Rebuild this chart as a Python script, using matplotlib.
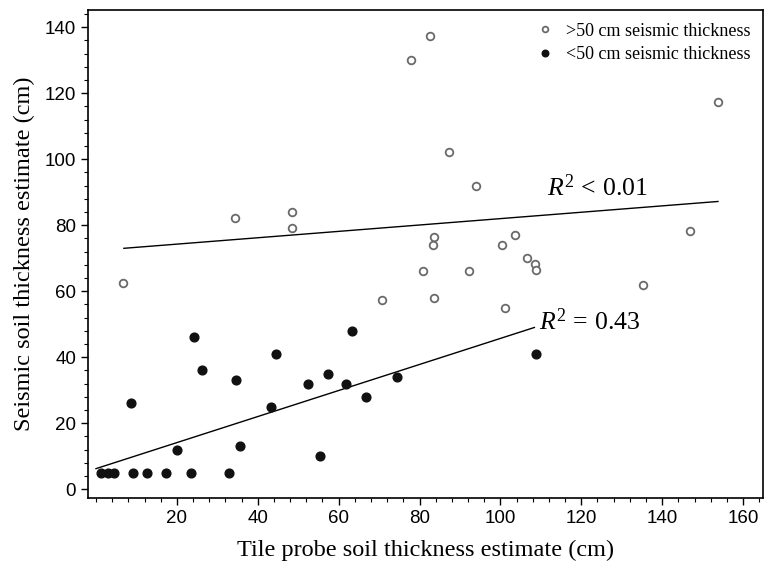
import matplotlib
matplotlib.use("Agg")
import matplotlib.pyplot as plt
import numpy as np
from matplotlib.ticker import MultipleLocator

# >50 cm seismic thickness (open circles)
deep_x = [6.7, 34.3, 48.5, 48.5, 70.8, 77.8, 80.8, 82.7, 83.3, 83.5, 83.7, 87.2,
          92.2, 94.0, 100.4, 101.1, 103.7, 106.5, 108.5, 108.7, 135.3, 147.0, 153.9]
deep_y = [62.5, 82.2, 84.1, 79.3, 57.3, 130.2, 66.2, 137.4, 73.9, 76.3, 57.9, 102.1,
          66.2, 92.0, 74.1, 54.8, 77.1, 70.0, 68.2, 66.3, 62.0, 78.2, 117.5]

# <50 cm seismic thickness (filled circles)
shallow_x = [1.2, 2.9, 4.5, 9.2, 12.5, 17.2, 23.6, 32.8, 8.6, 20.1, 24.2, 26.1,
             34.6, 35.6, 43.2, 44.4, 52.4, 55.5, 57.4, 61.9, 63.4, 66.8, 74.5, 108.8]
shallow_y = [5, 5, 5, 5, 5, 5, 5, 5, 26, 12, 46, 36,
             33, 13, 25, 41, 32, 10, 35, 32, 48, 28, 34, 41]

# regression lines (end points)
fit_deep_x = [6.9, 153.8]
fit_deep_y = [73.0, 87.2]
fit_shallow_x = [0.0, 108.4]
fit_shallow_y = [6.2, 49.0]

serif = "Liberation Serif"
sans = "Liberation Sans"
plt.rcParams["mathtext.fontset"] = "custom"
plt.rcParams["mathtext.rm"] = serif
plt.rcParams["mathtext.it"] = serif + ":italic"

fig = plt.figure(figsize=(7.71, 5.64), dpi=100)
ax = fig.add_axes([0.114, 0.117, 0.876, 0.865])

ax.plot(fit_deep_x, fit_deep_y, color="black", linewidth=1.0)
ax.plot(fit_shallow_x, fit_shallow_y, color="black", linewidth=1.0)

ax.plot(deep_x, deep_y, linestyle="none", marker="o", markersize=5.5,
        markerfacecolor="white", markeredgecolor="#6a6a6a", markeredgewidth=1.3,
        label=">50 cm seismic thickness")
ax.plot(shallow_x, shallow_y, linestyle="none", marker="o", markersize=6.3,
        markerfacecolor="#111111", markeredgecolor="#111111",
        label="<50 cm seismic thickness")

ax.text(111.6, 91.2, r"$R^2\,<\,0.01$", fontsize=18.5, va="center", ha="left")
ax.text(109.6, 50.6, r"$R^2\,=\,0.43$", fontsize=18.5, va="center", ha="left")

ax.set_xlim(-2, 165)
ax.set_ylim(-2.7, 145.2)
ax.xaxis.set_major_locator(MultipleLocator(20))
ax.xaxis.set_minor_locator(MultipleLocator(4))
ax.yaxis.set_major_locator(MultipleLocator(20))
ax.yaxis.set_minor_locator(MultipleLocator(4))
ax.set_xticks([20, 40, 60, 80, 100, 120, 140, 160])

ax.tick_params(which="major", direction="out", length=5, width=1.0, labelsize=13.5)
ax.tick_params(which="minor", direction="out", length=3, width=0.8)
for lab in ax.get_xticklabels() + ax.get_yticklabels():
    lab.set_fontfamily(sans)
for sp in ax.spines.values():
    sp.set_linewidth(1.2)

ax.set_xlabel("Tile probe soil thickness estimate (cm)", fontsize=17.5, family=serif, labelpad=9)
ax.set_ylabel("Seismic soil thickness estimate (cm)", fontsize=17.5, family=serif, labelpad=7)

leg = ax.legend(loc="upper right", frameon=False, prop={"family": serif, "size": 13},
                handletextpad=0.4, labelspacing=0.35, borderaxespad=0.3, markerscale=0.75,
                handlelength=1.5)

fig.savefig("out.png", dpi=100)
